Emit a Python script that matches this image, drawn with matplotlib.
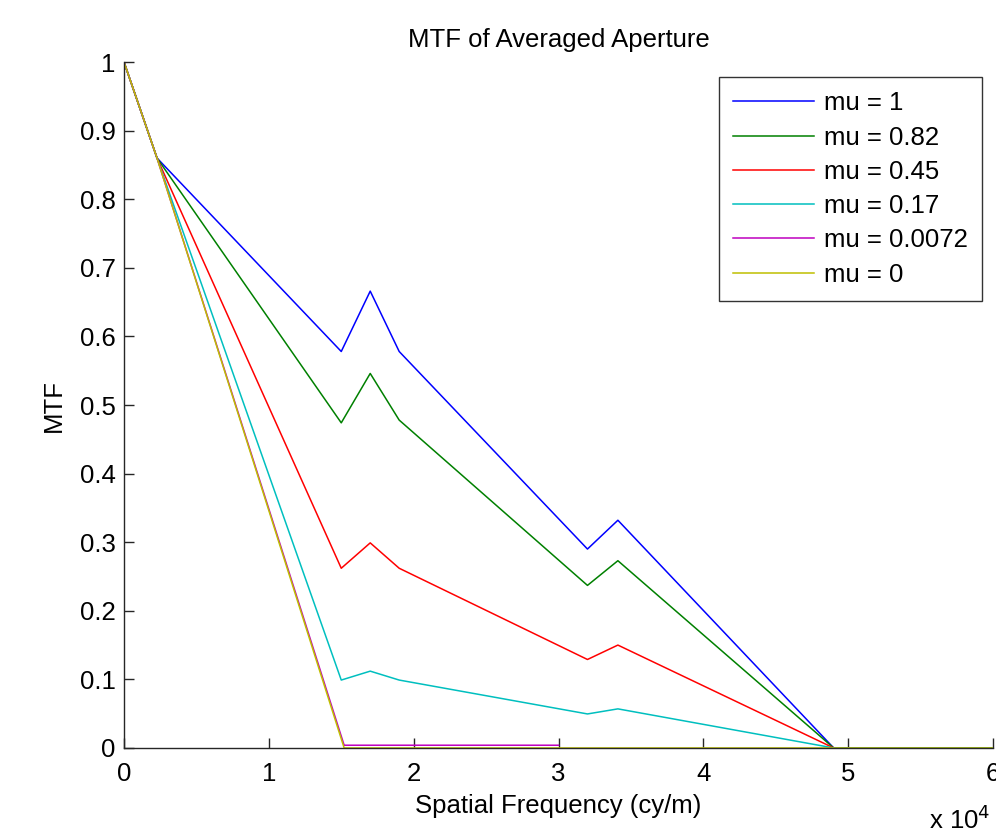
"""
MTF of averaged aperture for several mu values
"""

import matplotlib.pyplot as plt

plt.rcParams['font.family'] = ['Liberation Sans', 'DejaVu Sans']

labels = ['mu = 1', 'mu = 0.82', 'mu = 0.45', 'mu = 0.17', 'mu = 0.0072', 'mu = 0']
colors = ['#0000ff', '#008000', '#ff0000', '#00bfbf', '#bf00bf', '#bfbf00']

# knee points of each curve (spatial frequency in cy/m, MTF)
x_full = [0, 2280, 15000, 17000, 19000, 32000, 34100, 49000, 60000]
mtf_1 = [1, 0.860, 0.578, 0.666, 0.578, 0.290, 0.332, 0, 0]
mtf_082 = [1, 0.860, 0.474, 0.546, 0.478, 0.237, 0.273, 0, 0]
mtf_045 = [1, 0.860, 0.262, 0.299, 0.262, 0.129, 0.150, 0, 0]
mtf_017 = [1, 0.860, 0.099, 0.112, 0.099, 0.0496, 0.057, 0, 0]

x_m = [0, 2280, 15200, 30000]
mtf_0072 = [1, 0.860, 0.004, 0.004]

x_y = [0, 2280, 15200, 60000]
mtf_0 = [1, 0.860, 0, 0]

FS = 18.5


def plot_mtf():
    fig = plt.figure(figsize=(9.96, 8.36), dpi=100)
    ax = fig.add_axes([0.1245, 0.1053, 0.8725, 0.8205])

    series = [(x_full, mtf_1), (x_full, mtf_082), (x_full, mtf_045),
              (x_full, mtf_017), (x_m, mtf_0072), (x_y, mtf_0)]
    for (xs, ys), c, lab in zip(series, colors, labels):
        ax.plot(xs, ys, color=c, lw=1.1, label=lab)

    ax.set_xlim(0, 60000)
    ax.set_ylim(0, 1)
    ax.set_xticks([i * 10000 for i in range(7)])
    ax.set_xticklabels([str(i) for i in range(7)])
    ax.set_yticks([i / 10 for i in range(11)])
    ax.set_yticklabels(['0'] + ['%.1f' % (i / 10) for i in range(1, 10)] + ['1'])

    for s in ['top', 'right']:
        ax.spines[s].set_visible(False)
    for s in ['left', 'bottom']:
        ax.spines[s].set_color('#262626')
        ax.spines[s].set_linewidth(1.0)
    ax.tick_params(direction='in', length=7, width=1, labelsize=FS,
                   colors='#262626', labelcolor='black')
    ax.tick_params(axis='y', pad=6)
    ax.tick_params(axis='x', pad=10)

    ax.set_title('MTF of Averaged Aperture', fontsize=FS, pad=11)
    ax.set_xlabel('Spatial Frequency (cy/m)', fontsize=FS, labelpad=6)
    ax.set_ylabel('MTF', fontsize=FS, labelpad=10)
    fig.text(0.994, 0.002, r'x 10$^{4}$', fontsize=FS, ha='right', va='bottom')

    leg = ax.legend(loc='upper right', bbox_to_anchor=(0.9873, 0.978),
                    fontsize=FS, frameon=True, fancybox=False,
                    handlelength=3.15, handletextpad=0.4, labelspacing=0.4,
                    borderpad=0.55, borderaxespad=0)
    leg.get_frame().set_edgecolor('black')
    leg.get_frame().set_linewidth(1.0)

    fig.savefig('out.png', dpi=100)


if __name__ == '__main__':
    plot_mtf()
